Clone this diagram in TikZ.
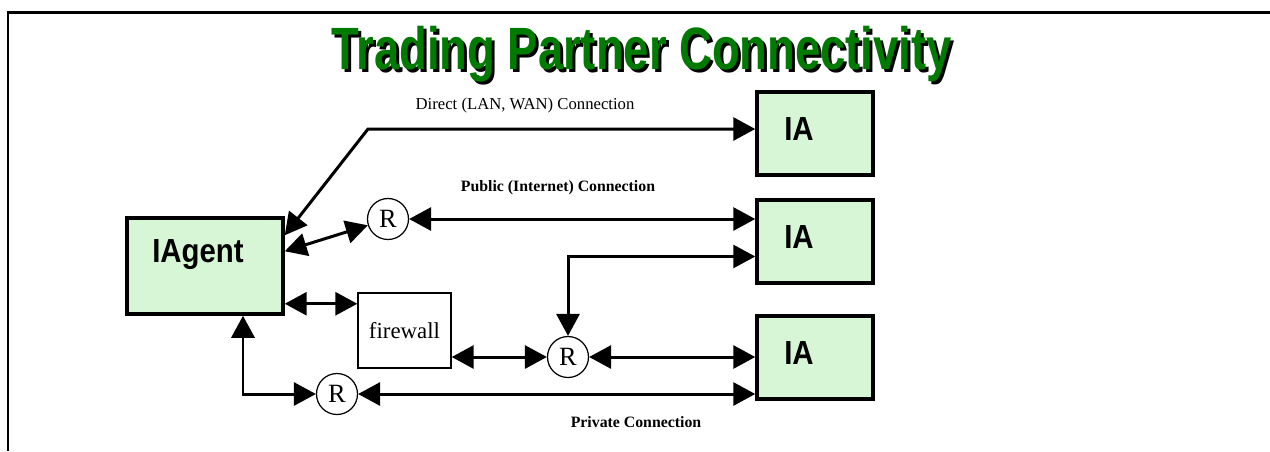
\documentclass[tikz,border=0pt]{standalone}
\usepackage{fontspec}
\setmainfont{Liberation Serif}
\setsansfont{Liberation Sans}
\usetikzlibrary{arrows.meta}
\definecolor{boxgreen}{RGB}{214,246,214}
\definecolor{titlegreen}{RGB}{0,122,0}
\newcommand{\tpctitle}{\scalebox{0.76}[1]{Trading Partner Connectivity}}
\newcommand{\narrowbox}[1]{\scalebox{0.88}[1]{#1}}

\begin{document}
\begin{tikzpicture}[x=0.02cm, y=-0.02cm, line width=1.7pt, >={Triangle[length=4.4mm, width=4.6mm]},
	agent/.style={rectangle, draw, fill=boxgreen, line width=2pt, minimum width=3.12cm, minimum height=1.92cm},
	iabox/.style={rectangle, draw, fill=boxgreen, line width=2pt, minimum width=2.32cm, minimum height=1.66cm},
	boxtext/.style={font=\sffamily\bfseries\fontsize{19}{19}\selectfont},
	router/.style={circle, draw, fill=white, line width=0.7pt, minimum size=0.82cm, inner sep=0pt, font=\fontsize{15}{15}\selectfont},
	wall/.style={rectangle, draw, fill=white, line width=0.8pt, minimum width=1.86cm, minimum height=1.5cm, font=\fontsize{13}{13}\selectfont},
	linklabel/.style={font=\fontsize{9.5}{9.5}\selectfont},
	titletext/.style={anchor=base, text=titlegreen, font=\sffamily\bfseries\fontsize{34}{34}\selectfont}]
	\useasboundingbox (0,0) rectangle (1270,451);
	% frame
	\draw (8,451) -- (8,12.5) -- (1270,12.5);

	% title, with its black shadow
	\node[titletext] (title) at (641.5,69.5) {\makebox[0pt][l]{\hspace{1.7pt}\raisebox{-1.7pt}{\color{black}\tpctitle}}\tpctitle};

	% nodes
	\node[agent, label={[boxtext, xshift=-0.14cm, yshift=0.22cm]center:\narrowbox{IAgent}}] (iagent) at (205,266) {};
	\node[iabox, label={[boxtext, xshift=-0.32cm, yshift=0.08cm]center:\narrowbox{IA}}] (ia1) at (815,133.5) {};
	\node[iabox, label={[boxtext, xshift=-0.32cm, yshift=0.08cm]center:\narrowbox{IA}}, below of=ia1, yshift=-1.16cm] (ia2) {};
	\node[iabox, label={[boxtext, xshift=-0.32cm, yshift=0.08cm]center:\narrowbox{IA}}, below of=ia2, yshift=-1.32cm] (ia3) {};
	\node[wall] (firewall) at (404.5,330.5) {firewall};
	\node[router] (r1) at (388,219) {R};
	\node[router] (r2) at (568,357) {R};
	\node[router] (r3) at (337,394) {R};

	% labels
	\node[linklabel] (lbldirect) at (525,105) {Direct (LAN, WAN) Connection};
	\node[linklabel, font=\bfseries\fontsize{9}{9}\selectfont] (lblpublic) at (558,188) {Public (Internet) Connection};
	\node[linklabel, font=\bfseries\fontsize{9}{9}\selectfont] (lblprivate) at (636,422) {Private Connection};

	% edges
	\coordinate (dbend) at (368,129);
	\coordinate (agtop) at ([yshift=-0.38cm]iagent.north east);
	\coordinate (iaback) at ([yshift=-0.3cm]ia2.west);
	\coordinate (fwin) at ([yshift=0.24cm]iagent.south east);
	\coordinate (agdown) at ([xshift=0.76cm]iagent.south);
	\draw [<->] (agtop) -- (dbend) -- (dbend -| ia1.west);
	\draw [<->] ([yshift=-0.7cm]iagent.north east) -- (r1);
	\draw [<->] (r1) -- (r1 -| ia2.west);
	\draw [<->] (iaback) -| (r2);
	\draw [<->] (fwin) -- (fwin -| firewall.west);
	\draw [<->] (r2 -| firewall.east) -- (r2);
	\draw [<->] (r2) -- (r2 -| ia3.west);
	\draw [<->] (agdown) |- (r3);
	\draw [<->] (r3) -- (r3 -| ia3.west);
\end{tikzpicture}
\end{document}
